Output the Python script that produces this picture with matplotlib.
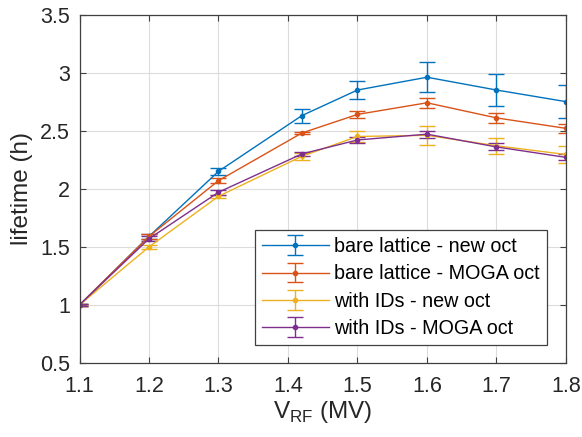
import matplotlib
matplotlib.use("Agg")
import matplotlib.pyplot as plt

plt.rcParams['font.family'] = ['Liberation Sans', 'DejaVu Sans']
plt.rcParams['mathtext.fontset'] = 'custom'
plt.rcParams['mathtext.rm'] = 'Liberation Sans'

v_rf = [1.1, 1.2, 1.3, 1.42, 1.5, 1.6, 1.7, 1.8]

bare_new = [1.0, 1.59, 2.15, 2.63, 2.85, 2.96, 2.85, 2.75]
bare_new_err = [0.01, 0.02, 0.03, 0.06, 0.08, 0.13, 0.14, 0.14]

bare_moga = [1.0, 1.59, 2.07, 2.48, 2.64, 2.74, 2.61, 2.52]
bare_moga_err = [0.01, 0.02, 0.02, 0.01, 0.03, 0.045, 0.04, 0.04]

ids_new = [1.0, 1.50, 1.935, 2.28, 2.45, 2.46, 2.37, 2.295]
ids_new_err = [0.01, 0.02, 0.015, 0.03, 0.05, 0.08, 0.07, 0.07]

ids_moga = [1.0, 1.57, 1.97, 2.30, 2.42, 2.47, 2.36, 2.27]
ids_moga_err = [0.01, 0.02, 0.02, 0.02, 0.025, 0.03, 0.03, 0.025]

series = [
    (bare_new, bare_new_err, '#0072BD', 'bare lattice - new oct'),
    (bare_moga, bare_moga_err, '#D95319', 'bare lattice - MOGA oct'),
    (ids_new, ids_new_err, '#EDB120', 'with IDs - new oct'),
    (ids_moga, ids_moga_err, '#7E2F8E', 'with IDs - MOGA oct'),
]

fig = plt.figure(figsize=(5.82, 4.37), dpi=100)
ax = fig.add_axes([0.1366, 0.1693, 0.8359, 0.7975])

for vals, errs, col, lab in series:
    ax.errorbar(v_rf, vals, yerr=errs, color=col, label=lab, lw=1.0,
                marker='o', markersize=3, capsize=5.5, elinewidth=1.0,
                capthick=1.0)

ax.set_xlim(1.1, 1.8)
ax.set_ylim(0.5, 3.5)
ax.set_xticks([1.1, 1.2, 1.3, 1.4, 1.5, 1.6, 1.7, 1.8])
ax.set_yticks([0.5, 1, 1.5, 2, 2.5, 3, 3.5])
ax.set_yticklabels(['0.5', '1', '1.5', '2', '2.5', '3', '3.5'])
ax.grid(True, color='#dcdcdc', lw=0.8)
ax.set_axisbelow(True)
ax.tick_params(direction='in', top=True, right=True, labelsize=15.5,
               color='#404040', length=4, labelcolor='#262626')
ax.tick_params(axis='x', pad=9)
ax.tick_params(axis='y', pad=7)
for s in ax.spines.values():
    s.set_color('#404040')
    s.set_linewidth(0.9)

ax.set_xlabel('V$_{\\mathrm{RF}}$ (MV)', fontsize=17.5, labelpad=2,
              color='#262626')
ax.set_ylabel('lifetime (h)', fontsize=17.5, labelpad=5, color='#262626')

leg = ax.legend(loc='lower right', bbox_to_anchor=(0.961, 0.052),
                fontsize=14.2, handlelength=3.4, fancybox=False,
                edgecolor='#404040', framealpha=1, borderpad=0.35,
                labelspacing=0.42, handletextpad=0.3, borderaxespad=0)
leg.get_frame().set_linewidth(0.9)

fig.savefig('out.png', dpi=100)
